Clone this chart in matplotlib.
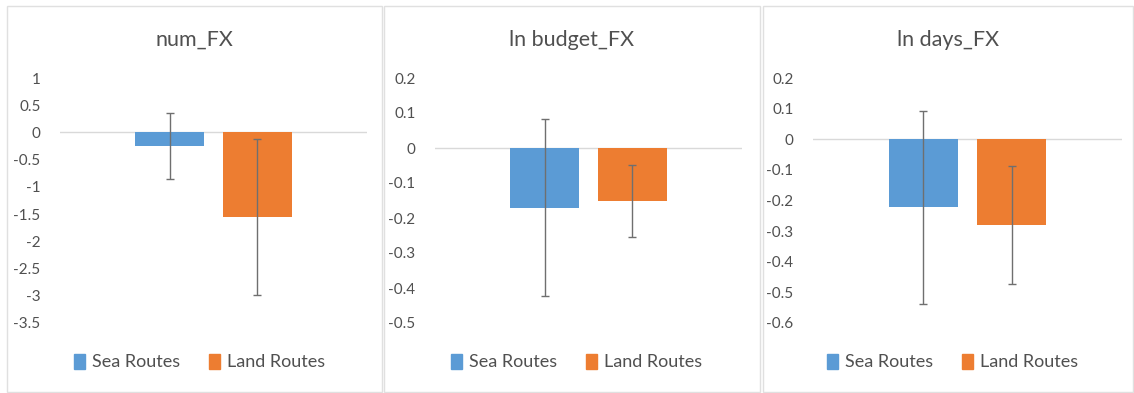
import numpy as np
import matplotlib
matplotlib.use("Agg")
import matplotlib.pyplot as plt
from matplotlib.patches import Rectangle, Patch
from matplotlib.ticker import FuncFormatter

titles = ["num_FX", "ln budget_FX", "ln days_FX"]
series = ["Sea Routes", "Land Routes"]

sea_vals = [-0.25, -0.17, -0.222]
sea_err = [0.60, 0.252, 0.315]
land_vals = [-1.55, -0.151, -0.28]
land_err = [1.43, 0.103, 0.192]

y_limits = [(-3.5, 1.0), (-0.5, 0.2), (-0.6, 0.2)]
y_steps = [0.5, 0.1, 0.1]

blue = "#5B9BD5"
orange = "#ED7D31"
txt = "#505050"

plt.rcParams["font.family"] = ["Lato", "DejaVu Sans"]

W, H = 1134, 393
fig = plt.figure(figsize=(W / 100, H / 100), dpi=100)

# panel frames (left, right) and plot areas (left, right) in pixels
frames = [(7, 382), (384, 760), (763, 1133)]
plots = [(60, 367), (435, 742), (813, 1122)]
plot_top, plot_bot = 78, 323

for i in range(3):
    fl, fr = frames[i]
    fig.patches.append(Rectangle((fl / W, 1 - 392 / H), (fr - fl) / W, (392 - 6) / H,
                                 transform=fig.transFigure, fill=False,
                                 edgecolor="#E0E0E0", linewidth=1.0))
    pl, pr = plots[i]
    ax = fig.add_axes([pl / W, 1 - plot_bot / H, (pr - pl) / W, (plot_bot - plot_top) / H])
    ekw = dict(ecolor="#6f6f6f", elinewidth=1.0, capsize=3, capthick=1.0)
    ax.bar(-0.143, sea_vals[i], width=0.225, color=blue, yerr=sea_err[i],
           error_kw=ekw, label=series[0], zorder=2)
    ax.bar(0.143, land_vals[i], width=0.225, color=orange, yerr=land_err[i],
           error_kw=ekw, label=series[1], zorder=2)
    ax.axhline(0, color="#D9D9D9", linewidth=1.0, zorder=1)
    lo, hi = y_limits[i]
    ax.set_ylim(lo, hi)
    ax.set_xlim(-0.5, 0.5)
    ax.set_yticks(np.round(np.arange(lo, hi + 1e-9, y_steps[i]), 2))
    ax.yaxis.set_major_formatter(FuncFormatter(lambda v, p: f"{v:g}" if abs(v) > 1e-9 else "0"))
    ax.tick_params(axis="y", length=0, labelsize=11, labelcolor=txt, pad=14)
    ax.set_xticks([])
    for s in ax.spines.values():
        s.set_visible(False)
    cx = (fl + fr) / 2 / W
    fig.text(cx, 1 - 40 / H, titles[i], ha="center", va="center", fontsize=15.5, color=txt)
    handles = [Patch(color=blue), Patch(color=orange)]
    fig.legend(handles, series, loc="center", bbox_to_anchor=(cx + 5 / W, 1 - 362 / H),
               ncol=2, frameon=False, fontsize=13, labelcolor=txt,
               handlelength=0.6, handleheight=0.9, handletextpad=0.4, columnspacing=1.6)

fig.savefig("out.png", dpi=100)
